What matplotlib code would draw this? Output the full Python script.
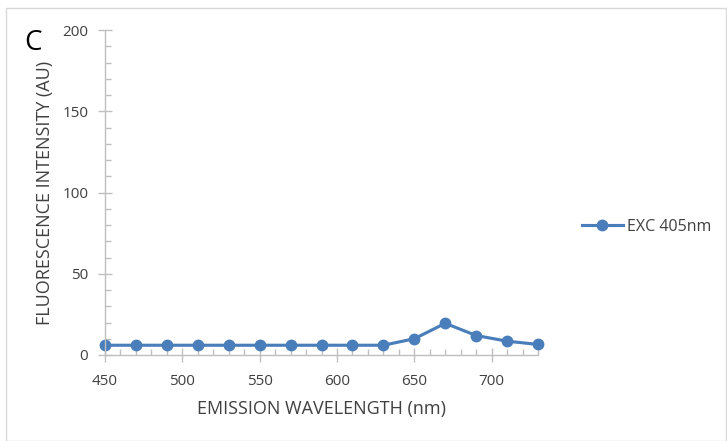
import matplotlib.pyplot as plt
from matplotlib.patches import Rectangle
from matplotlib.ticker import MultipleLocator

# emission spectrum, excitation at 405 nm
wavelength = [450, 470, 490, 510, 530, 550, 570, 590, 610, 630, 650, 670, 690, 710, 730]
intensity = [6, 6, 6, 6, 6, 6, 6, 6, 6, 6, 10, 19.5, 12, 8.5, 6.5]
series_name = 'EXC 405nm'

plt.rcParams['font.family'] = ['Open Sans', 'DejaVu Sans']
blue = '#4a7ebb'
grey = '#bfbfbf'
txt = '#404040'

fig = plt.figure(figsize=(7.27, 4.41), dpi=100)
# thin chart-area border
fig.patches.append(Rectangle((6 / 727, 0.0), 720 / 727, 433 / 441, transform=fig.transFigure,
                             fill=False, edgecolor='#d9d9d9', linewidth=1))
ax = fig.add_axes([105 / 727, 1 - 355 / 441, 433 / 727, 325 / 441])

ax.plot(wavelength, intensity, color=blue, linewidth=2.25, marker='o', markersize=7.5,
        label=series_name, clip_on=False)

ax.set_xlim(450, 730)
ax.set_ylim(0, 200)
ax.xaxis.set_major_locator(MultipleLocator(50))
ax.xaxis.set_minor_locator(MultipleLocator(10))
ax.yaxis.set_major_locator(MultipleLocator(50))
ax.yaxis.set_minor_locator(MultipleLocator(10))

for s in ['top', 'right']:
    ax.spines[s].set_visible(False)
for s in ['left', 'bottom']:
    ax.spines[s].set_color(grey)
    ax.spines[s].set_linewidth(1)

ax.tick_params(which='major', direction='inout', length=10, color=grey, width=1,
               labelsize=11, labelcolor=txt)
ax.tick_params(axis='x', which='major', pad=9)
ax.tick_params(axis='y', which='major', pad=7)
ax.tick_params(which='minor', direction='in', length=4, color=grey, width=1)

ax.set_xlabel('EMISSION WAVELENGTH (nm)', fontsize=13, color=txt)
ax.set_ylabel('FLUORESCENCE INTENSITY (AU)', fontsize=13, color=txt)
ax.xaxis.set_label_coords(0.5, -0.138)
ax.yaxis.set_label_coords(-0.118, 0.5)

fig.text(24 / 727, 1 - 43 / 441, 'C', fontsize=20, color='black', va='center')

ax.legend(loc='center left', bbox_to_anchor=(582 / 727, 1 - 227 / 441),
          bbox_transform=fig.transFigure, frameon=False, fontsize=11.5,
          borderpad=0, borderaxespad=0, handlelength=2.55, handletextpad=0.25,
          labelcolor=txt)

fig.savefig('out.png', dpi=100)
